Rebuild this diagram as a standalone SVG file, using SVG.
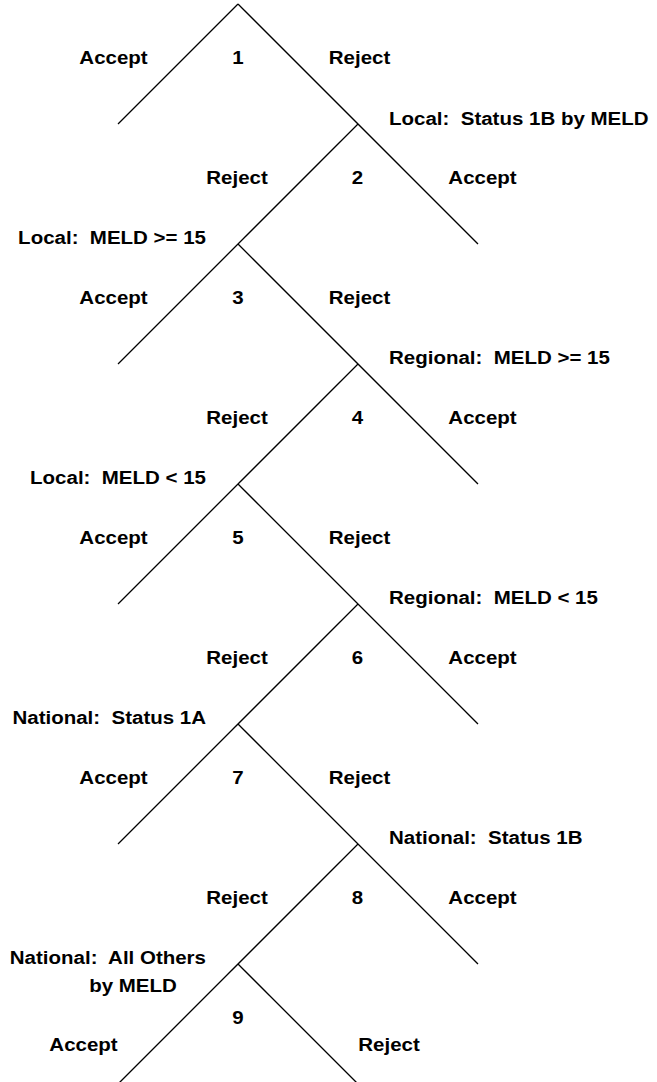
<svg xmlns="http://www.w3.org/2000/svg" width="657" height="1082" viewBox="0 0 657 1082">
<style>
text{font-family:"Liberation Sans",Arial,sans-serif;font-weight:bold;font-size:18.5px;fill:#000;white-space:pre}
.c{text-anchor:middle}
.e{text-anchor:end}
.s{text-anchor:start}
line{stroke:#000;stroke-width:1.3;fill:none}
</style>
<rect width="657" height="1082" fill="#fff"/>
<g id="connectors">
<line x1="238" y1="4" x2="118" y2="124"/>
<line x1="238" y1="4" x2="478" y2="244"/>
<line x1="358" y1="124" x2="118" y2="364"/>
<line x1="238" y1="244" x2="478" y2="484"/>
<line x1="358" y1="364" x2="118" y2="604"/>
<line x1="238" y1="484" x2="478" y2="724"/>
<line x1="358" y1="604" x2="118" y2="844"/>
<line x1="238" y1="724" x2="478" y2="964"/>
<line x1="358" y1="844" x2="118" y2="1084"/>
<line x1="238" y1="964" x2="358" y2="1084"/>
</g>
<g id="node1">
<text class="c" transform="translate(113.5,64) scale(1.108,1)">Accept</text>
<text class="c" transform="translate(238,64) scale(1.108,1)">1</text>
<text class="c" transform="translate(359.5,64) scale(1.108,1)">Reject</text>
</g>
<g id="node2">
<text class="s" xml:space="preserve" transform="translate(389,125) scale(1.108,1)">Local:  Status 1B by MELD</text>
<text class="c" transform="translate(237,184) scale(1.108,1)">Reject</text>
<text class="c" transform="translate(357.5,184) scale(1.108,1)">2</text>
<text class="c" transform="translate(482.5,184) scale(1.108,1)">Accept</text>
</g>
<g id="node3">
<text class="e" xml:space="preserve" transform="translate(206,244) scale(1.108,1)">Local:  MELD &gt;= 15</text>
<text class="c" transform="translate(113.5,304) scale(1.108,1)">Accept</text>
<text class="c" transform="translate(238,304) scale(1.108,1)">3</text>
<text class="c" transform="translate(359.5,304) scale(1.108,1)">Reject</text>
</g>
<g id="node4">
<text class="s" xml:space="preserve" transform="translate(389,364) scale(1.108,1)">Regional:  MELD &gt;= 15</text>
<text class="c" transform="translate(237,424) scale(1.108,1)">Reject</text>
<text class="c" transform="translate(357.5,424) scale(1.108,1)">4</text>
<text class="c" transform="translate(482.5,424) scale(1.108,1)">Accept</text>
</g>
<g id="node5">
<text class="e" xml:space="preserve" transform="translate(206,484) scale(1.108,1)">Local:  MELD &lt; 15</text>
<text class="c" transform="translate(113.5,544) scale(1.108,1)">Accept</text>
<text class="c" transform="translate(238,544) scale(1.108,1)">5</text>
<text class="c" transform="translate(359.5,544) scale(1.108,1)">Reject</text>
</g>
<g id="node6">
<text class="s" xml:space="preserve" transform="translate(389,604) scale(1.108,1)">Regional:  MELD &lt; 15</text>
<text class="c" transform="translate(237,664) scale(1.108,1)">Reject</text>
<text class="c" transform="translate(357.5,664) scale(1.108,1)">6</text>
<text class="c" transform="translate(482.5,664) scale(1.108,1)">Accept</text>
</g>
<g id="node7">
<text class="e" xml:space="preserve" transform="translate(206,724) scale(1.108,1)">National:  Status 1A</text>
<text class="c" transform="translate(113.5,784) scale(1.108,1)">Accept</text>
<text class="c" transform="translate(238,784) scale(1.108,1)">7</text>
<text class="c" transform="translate(359.5,784) scale(1.108,1)">Reject</text>
</g>
<g id="node8">
<text class="s" xml:space="preserve" transform="translate(389,844) scale(1.108,1)">National:  Status 1B</text>
<text class="c" transform="translate(237,904) scale(1.108,1)">Reject</text>
<text class="c" transform="translate(357.5,904) scale(1.108,1)">8</text>
<text class="c" transform="translate(482.5,904) scale(1.108,1)">Accept</text>
</g>
<g id="node9">
<text class="e" xml:space="preserve" transform="translate(206,964) scale(1.108,1)">National:  All Others</text>
<text class="c" transform="translate(133,992) scale(1.108,1)">by MELD</text>
<text class="c" transform="translate(238,1024) scale(1.108,1)">9</text>
<text class="c" transform="translate(83.5,1051) scale(1.108,1)">Accept</text>
<text class="c" transform="translate(389,1051) scale(1.108,1)">Reject</text>
</g>
</svg>
